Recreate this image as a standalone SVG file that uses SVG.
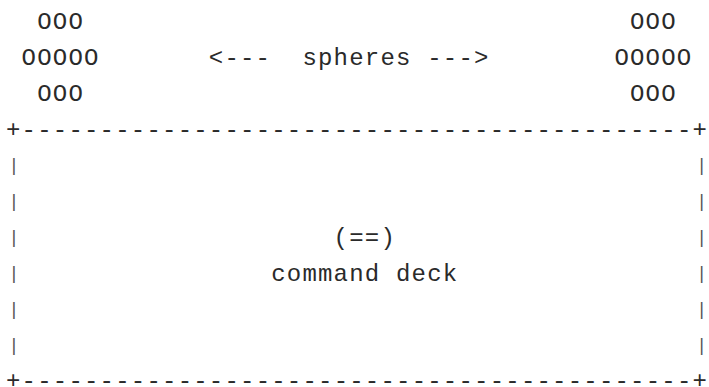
<svg xmlns="http://www.w3.org/2000/svg" width="709" height="387" viewBox="0 0 709 387">
  <style>
    text { font-family: "Liberation Mono", "DejaVu Sans Mono", monospace; font-size: 24px; letter-spacing: 1.2px; fill: #2a2a2a; white-space: pre; }
    text.pipe { font-size: 18px; letter-spacing: 0; fill: #555555; }
  </style>
  <rect width="709" height="387" fill="#ffffff"/>
  <g id="spheres-left">
    <text x="37.2" y="29">OOO</text>
    <text x="21.6" y="65">OOOOO</text>
    <text x="37.2" y="101">OOO</text>
  </g>
  <g id="spheres-right">
    <text x="630" y="29">OOO</text>
    <text x="614.4" y="65">OOOOO</text>
    <text x="630" y="101">OOO</text>
  </g>
  <g id="connectors">
    <text x="208.8" y="65" xml:space="preserve">&lt;---  spheres ---&gt;</text>
  </g>
  <g id="command-deck">
    <text x="6" y="137">+-------------------------------------------+</text>
    <text class="pipe" x="8.6" y="171">|</text><text class="pipe" x="696.3" y="171">|</text>
    <text class="pipe" x="8.6" y="207">|</text><text class="pipe" x="696.3" y="207">|</text>
    <text class="pipe" x="8.6" y="243">|</text><text class="pipe" x="696.3" y="243">|</text>
    <text class="pipe" x="8.6" y="279">|</text><text class="pipe" x="696.3" y="279">|</text>
    <text class="pipe" x="8.6" y="315">|</text><text class="pipe" x="696.3" y="315">|</text>
    <text class="pipe" x="8.6" y="351">|</text><text class="pipe" x="696.3" y="351">|</text>
    <text x="6" y="388">+-------------------------------------------+</text>
    <text x="333.6" y="245">(==)</text>
    <text x="271.2" y="281" xml:space="preserve">command deck</text>
  </g>
</svg>
